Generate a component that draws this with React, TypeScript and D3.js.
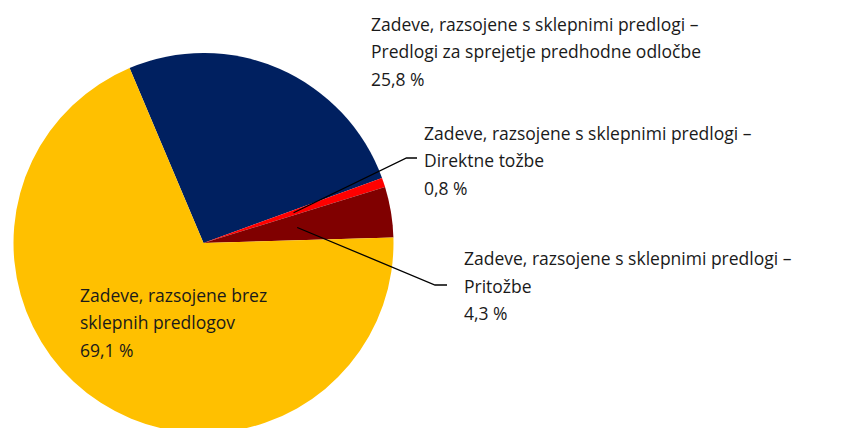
import React from "react";
import * as d3 from "d3";

const categories = [
  "Zadeve, razsojene s sklepnimi predlogi – Predlogi za sprejetje predhodne odločbe",
  "Zadeve, razsojene s sklepnimi predlogi – Direktne tožbe",
  "Zadeve, razsojene s sklepnimi predlogi – Pritožbe",
  "Zadeve, razsojene brez sklepnih predlogov",
];
const values = [25.8, 0.8, 4.3, 69.1];
const valueLabels = ["25,8 %", "0,8 %", "4,3 %", "69,1 %"];
const labelLines = [
  ["Zadeve, razsojene s sklepnimi predlogi –", "Predlogi za sprejetje predhodne odločbe"],
  ["Zadeve, razsojene s sklepnimi predlogi –", "Direktne tožbe"],
  ["Zadeve, razsojene s sklepnimi predlogi –", "Pritožbe"],
  ["Zadeve, razsojene brez", "sklepnih predlogov"],
];
const colors = ["#002060", "#FF0000", "#800000", "#FFC000"];

const W = 849;
const H = 428;
const cx = 203.5;
const cy = 243;
const R = 190;
const startDeg = -22.9;
const labelPos = [
  { x: 371, y: 30.5 },
  { x: 424, y: 139.5 },
  { x: 464, y: 265 },
  { x: 80, y: 301.5 },
];
const lineH = 27.5;
// elbow & end of leader lines (null = no leader)
const leaders: ({ elbow: [number, number]; end: [number, number] } | null)[] = [
  null,
  { elbow: [406.5, 158], end: [417, 158] },
  { elbow: [435, 285], end: [447, 285] },
  null,
];

export default function App() {
  const pie = d3
    .pie<number>()
    .sort(null)
    .startAngle((startDeg * Math.PI) / 180)
    .endAngle((startDeg * Math.PI) / 180 + 2 * Math.PI);
  const arcs = pie(values);
  const arc = d3.arc<d3.PieArcDatum<number>>().innerRadius(0).outerRadius(R);

  return (
    <svg
      width={W}
      height={H}
      style={{ position: "absolute", left: 0, top: 0, display: "block" }}
      fontFamily="'Open Sans', sans-serif"
    >
      <rect width={W} height={H} fill="#ffffff" />
      <g transform={`translate(${cx},${cy})`}>
        {arcs.map((a, i) => (
          <path key={i} d={arc(a) || ""} fill={colors[i]} stroke="none" />
        ))}
      </g>
      {arcs.map((a, i) => {
        const L = leaders[i];
        if (!L) return null;
        const c = arc.centroid(a);
        const p = d3.path();
        p.moveTo(cx + c[0], cy + c[1]);
        p.lineTo(L.elbow[0], L.elbow[1]);
        p.lineTo(L.end[0], L.end[1]);
        return <path key={"l" + i} d={p.toString()} fill="none" stroke="#000" strokeWidth={1.3} />;
      })}
      {labelLines.map((lines, i) => (
        <text key={"t" + i} x={labelPos[i].x} y={labelPos[i].y} fontSize={17.5} fill="#1a1a1a">
          {[...lines, valueLabels[i]].map((s, j) => (
            <tspan key={j} x={labelPos[i].x} dy={j === 0 ? 0 : lineH}>
              {s}
            </tspan>
          ))}
        </text>
      ))}
    </svg>
  );
}
